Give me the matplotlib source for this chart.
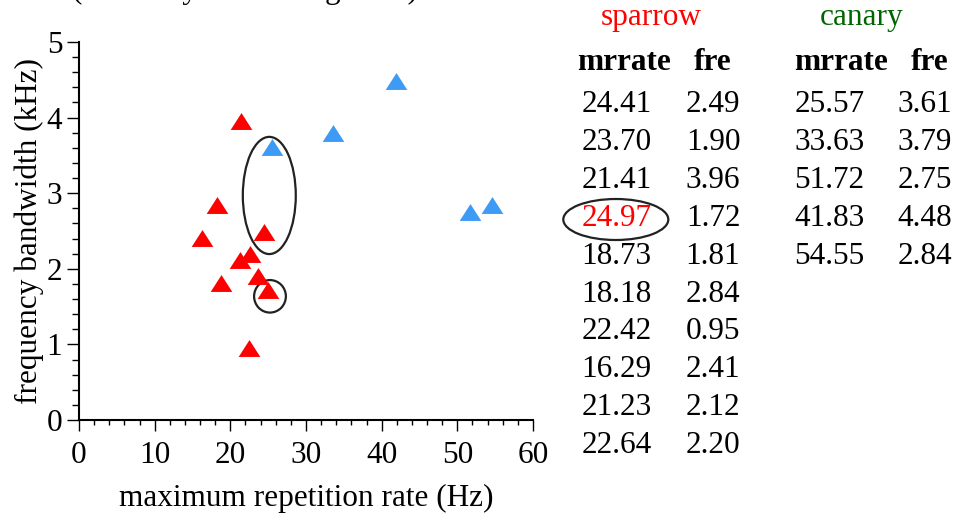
import matplotlib
matplotlib.use("Agg")
import matplotlib.pyplot as plt
from matplotlib.patches import Ellipse
from matplotlib.ticker import MultipleLocator

plt.rcParams['font.family'] = ['Liberation Serif', 'DejaVu Serif']

# data
sparrow_mrrate = [24.41, 23.70, 21.41, 24.97, 18.73, 18.18, 22.42, 16.29, 21.23, 22.64]
sparrow_fre = [2.49, 1.90, 3.96, 1.72, 1.81, 2.84, 0.95, 2.41, 2.12, 2.20]
canary_mrrate = [25.57, 33.63, 51.72, 41.83, 54.55]
canary_fre = [3.61, 3.79, 2.75, 4.48, 2.84]
x_ticks = [0, 10, 20, 30, 40, 50, 60]
y_ticks = [0, 1, 2, 3, 4, 5]

FS = 22.5
W, H = 955, 515
fig = plt.figure(figsize=(W / 100, H / 100), dpi=100)
ax = fig.add_axes([79 / W, 1 - 420 / H, (533 - 79) / W, (420 - 42) / H])

tri = [(-1, -0.78), (1, -0.78), (0, 0.78)]
ax.plot(sparrow_mrrate, sparrow_fre, linestyle='none', marker=tri, markersize=15.6,
        color='#ff0000', markeredgewidth=0, clip_on=False)
ax.plot(canary_mrrate, canary_fre, linestyle='none', marker=tri, markersize=15.6,
        color='#3d9bf5', markeredgewidth=0, clip_on=False)

ax.add_patch(Ellipse((25.15, 2.97), 7.0, 1.55, fill=False, edgecolor='#222222', lw=1.6))
ax.add_patch(Ellipse((25.24, 1.636), 4.2, 0.43, fill=False, edgecolor='#222222', lw=1.6))

ax.set_xlim(0, 60)
ax.set_ylim(0, 5)
ax.set_xticks(x_ticks)
ax.set_yticks(y_ticks)
ax.xaxis.set_minor_locator(MultipleLocator(2))
ax.yaxis.set_minor_locator(MultipleLocator(0.2))
for s in ['top', 'right']:
    ax.spines[s].set_visible(False)
for s in ['left', 'bottom']:
    ax.spines[s].set_linewidth(1.5)
ax.tick_params(axis='x', which='major', length=8, width=1, pad=7, labelsize=FS)
ax.tick_params(axis='x', which='minor', length=3.6, width=1)
ax.tick_params(axis='y', which='major', length=9, width=1, pad=3, labelsize=FS)
ax.tick_params(axis='y', which='minor', length=4.8, width=1)
ax.set_xlabel('maximum repetition rate (Hz)', fontsize=FS, labelpad=10)
ax.set_ylabel('frequency bandwidth (kHz)', fontsize=FS, labelpad=2)

# cut-off heading at the top (only its lower part is visible, as in the original)
fig.text(72 / W, 1 + 2 / H, '(sorted by mean song rates)', fontsize=FS,
         ha='left', va='baseline')

# tables
def fx(px):
    return px / W

def fy(py):
    return 1 - py / H

fig.text(fx(651.7), fy(18), 'sparrow', color='#ff0000', fontsize=FS, ha='center', va='center')
fig.text(fx(861.7), fy(18), 'canary', color='#006400', fontsize=FS, ha='center', va='center')
for cx, lab in [(624.4, 'mrrate'), (713, 'fre'), (840.5, 'mrrate'), (929.5, 'fre')]:
    fig.text(fx(cx), fy(63), lab, fontsize=FS, fontweight='bold', ha='center', va='center')

row0, dy = 105, 37.8
for i, (m, f) in enumerate(zip(sparrow_mrrate, sparrow_fre)):
    yy = row0 + i * dy
    fig.text(fx(616.7), fy(yy), f'{m:.2f}', fontsize=FS, ha='center', va='center',
             color='#ff0000' if i == 3 else 'black')
    fig.text(fx(713), fy(yy), f'{f:.2f}', fontsize=FS, ha='center', va='center')
for i, (m, f) in enumerate(zip(canary_mrrate, canary_fre)):
    yy = row0 + i * dy
    fig.text(fx(829.3), fy(yy), f'{m:.2f}', fontsize=FS, ha='center', va='center')
    fig.text(fx(925), fy(yy), f'{f:.2f}', fontsize=FS, ha='center', va='center')

fig.patches.append(Ellipse((fx(615.8), fy(219.5)), 105 / W, 41 / H, fill=False,
                           edgecolor='#222222', lw=1.6, transform=fig.transFigure))

fig.savefig('out.png', dpi=100)
